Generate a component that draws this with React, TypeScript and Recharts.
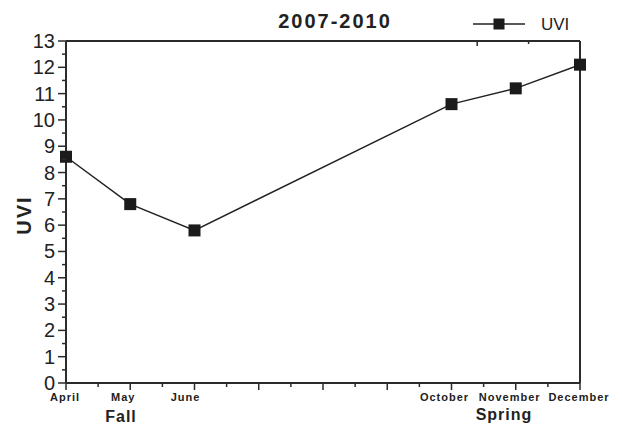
import React from 'react';
import { LineChart, Line, XAxis, YAxis } from 'recharts';

const months = [4, 5, 6, 10, 11, 12];
const monthNames = ['April', 'May', 'June', 'October', 'November', 'December'];
const uvi = [8.6, 6.8, 5.8, 10.6, 11.2, 12.1];

const xTicks = [4, 4.5, 5, 5.5, 6, 6.5, 7, 7.5, 8, 8.5, 9, 9.5, 10, 10.5, 11, 11.5, 12];
const yTicks = [0, 0.5, 1, 1.5, 2, 2.5, 3, 3.5, 4, 4.5, 5, 5.5, 6, 6.5, 7, 7.5, 8, 8.5, 9, 9.5, 10, 10.5, 11, 11.5, 12, 12.5, 13];
const yMajor = [0, 1, 2, 3, 4, 5, 6, 7, 8, 9, 10, 11, 12, 13];
const rightTicks = [0, 1, 2, 3, 4, 5, 6, 7, 8, 9];

const data = months.map((m, i) => ({ month: m, uvi: uvi[i] }));

const INK = '#2b2b2b';
const FONT = '"Liberation Sans", Arial, sans-serif';

// labels in the original sit a little left of their ticks
const labelShift: Record<number, number> = { 4: -1, 5: -7, 6: -9, 10: -7, 11: -6, 12: -1 };

function BottomTick({ x, y, payload }: any) {
  const v = payload.value;
  const major = Number.isInteger(v);
  const idx = months.indexOf(v);
  return (
    <g>
      <line x1={x} x2={x} y1={y} y2={y + (major ? 7 : 4)} stroke={INK} strokeWidth={1.5} />
      {idx >= 0 && (
        <text
          x={x + (labelShift[v] || 0)}
          y={y + 18}
          textAnchor="middle"
          fontFamily={FONT}
          fontWeight="bold"
          fontSize={11}
          letterSpacing={1}
          fill="#222"
        >
          {monthNames[idx]}
        </text>
      )}
    </g>
  );
}

function TopTick({ x, y, payload }: any) {
  const major = Number.isInteger(payload.value);
  return <line x1={x} x2={x} y1={y} y2={y + (major ? 5 : 3)} stroke={INK} strokeWidth={1.5} />;
}

function LeftTick({ x, y, payload }: any) {
  const v = payload.value;
  const major = yMajor.includes(v);
  return (
    <g>
      <line x1={x} x2={x - (major ? 8 : 4)} y1={y} y2={y} stroke={INK} strokeWidth={1.5} />
      {major && (
        <text x={x - 11} y={y + 7} textAnchor="end" fontFamily={FONT} fontSize={20} fill="#222">
          {v}
        </text>
      )}
    </g>
  );
}

function RightTick({ x, y }: any) {
  return <line x1={x} x2={x - 6} y1={y} y2={y} stroke={INK} strokeWidth={1.5} />;
}

function SquareDot(props: any) {
  const { cx, cy, index } = props;
  return <rect key={index} x={cx - 6} y={cy - 6} width={12} height={12} fill="#1b1b1b" />;
}

export default function App() {
  const text = { position: 'absolute' as const, fontFamily: FONT, whiteSpace: 'nowrap' as const, color: '#222' };
  return (
    <div style={{ position: 'relative', width: 622, height: 426, background: '#fff' }}>
      <style>{'body{margin:0}'}</style>
      <LineChart width={622} height={426} data={data} margin={{ top: 40, right: 41, bottom: 0, left: 0 }}>
        <XAxis
          xAxisId="b"
          type="number"
          dataKey="month"
          domain={[4, 12]}
          ticks={xTicks}
          interval={0}
          height={43}
          tickSize={0}
          tickMargin={0}
          tick={<BottomTick />}
          axisLine={{ stroke: INK, strokeWidth: 2 }}
          allowDecimals
        />
        <XAxis
          xAxisId="t"
          orientation="top"
          type="number"
          domain={[4, 12]}
          ticks={xTicks}
          interval={0}
          height={1}
          tickSize={0}
          tickMargin={0}
          tick={<TopTick />}
          axisLine={{ stroke: INK, strokeWidth: 2 }}
        />
        <YAxis
          yAxisId="l"
          type="number"
          domain={[0, 13]}
          ticks={yTicks}
          interval={0}
          width={66}
          tickSize={0}
          tickMargin={0}
          tick={<LeftTick />}
          axisLine={{ stroke: INK, strokeWidth: 2 }}
        />
        <YAxis
          yAxisId="r"
          orientation="right"
          type="number"
          domain={[0, 9]}
          ticks={rightTicks}
          interval={0}
          width={1}
          tickSize={0}
          tickMargin={0}
          tick={<RightTick />}
          axisLine={{ stroke: INK, strokeWidth: 2 }}
        />
        <Line
          xAxisId="b"
          yAxisId="l"
          type="linear"
          dataKey="uvi"
          stroke="#222"
          strokeWidth={1.5}
          dot={SquareDot}
          activeDot={false}
          isAnimationActive={false}
        />
      </LineChart>

      <div style={{ ...text, left: 335, top: 11, transform: 'translateX(-50%)', fontSize: 20, lineHeight: '20px', fontWeight: 'bold', letterSpacing: 2 }}>
        2007-2010
      </div>

      <svg style={{ position: 'absolute', left: 470, top: 16 }} width={60} height={16}>
        <line x1={3} x2={55} y1={8} y2={8} stroke="#222" strokeWidth={1.5} />
        <rect x={23.5} y={2.5} width={11} height={11} fill="#1b1b1b" />
      </svg>
      <div style={{ ...text, left: 541, top: 16, fontSize: 17, lineHeight: '17px' }}>UVI</div>

      <div
        style={{
          ...text,
          left: 24,
          top: 215,
          transform: 'translate(-50%, -50%) rotate(-90deg)',
          fontSize: 20,
          lineHeight: '20px',
          fontWeight: 'bold',
          letterSpacing: 2,
        }}
      >
        UVI
      </div>

      <div style={{ ...text, left: 121, top: 409, transform: 'translateX(-50%)', fontSize: 16, lineHeight: '16px', fontWeight: 'bold', letterSpacing: 1 }}>
        Fall
      </div>
      <div style={{ ...text, left: 504, top: 407, transform: 'translateX(-50%)', fontSize: 16, lineHeight: '16px', fontWeight: 'bold', letterSpacing: 1 }}>
        Spring
      </div>
    </div>
  );
}
